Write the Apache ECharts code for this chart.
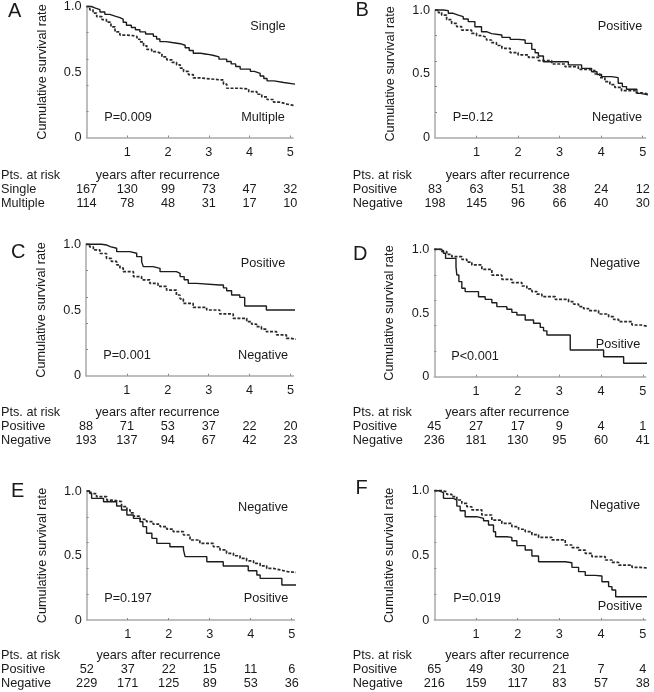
<!DOCTYPE html>
<html><head><meta charset="utf-8">
<script src="https://cdn.jsdelivr.net/npm/echarts@6/dist/echarts.min.js"></script>
<style>html,body{margin:0;padding:0;background:#fff}#c{width:654px;height:692px}</style>
</head><body><div id="c"></div>
<script>
// ---------- DATA ----------
const panelLetters = ['A', 'B', 'C', 'D', 'E', 'F'];
const groupNames = [
  ['Single', 'Multiple'],
  ['Positive', 'Negative'],
  ['Positive', 'Negative'],
  ['Positive', 'Negative'],
  ['Positive', 'Negative'],
  ['Positive', 'Negative']
];
const pValues = ['P=0.009', 'P=0.12', 'P=0.001', 'P<0.001', 'P=0.197', 'P=0.019'];
const xTickValues = [1, 2, 3, 4, 5];
const riskTimes = [0, 1, 2, 3, 4, 5];
const yLabelValues = [0, 0.5, 1];
const yTickValues = [0.2, 0.4, 0.6, 0.8];

const aSingleRisk = [167, 130, 99, 73, 47, 32];
const aMultipleRisk = [114, 78, 48, 31, 17, 10];
const bPositiveRisk = [83, 63, 51, 38, 24, 12];
const bNegativeRisk = [198, 145, 96, 66, 40, 30];
const cPositiveRisk = [88, 71, 53, 37, 22, 20];
const cNegativeRisk = [193, 137, 94, 67, 42, 23];
const dPositiveRisk = [45, 27, 17, 9, 4, 1];
const dNegativeRisk = [236, 181, 130, 95, 60, 41];
const ePositiveRisk = [52, 37, 22, 15, 11, 6];
const eNegativeRisk = [229, 171, 125, 89, 53, 36];
const fPositiveRisk = [65, 49, 30, 21, 7, 4];
const fNegativeRisk = [216, 159, 117, 83, 57, 38];

// survival curves: [years, cumulative survival]
const aSingle = [[0,1],[0.12,0.988],[0.22,0.976],[0.33,0.958],[0.45,0.94],[0.57,0.926],[0.7,0.915],[0.82,0.903],[0.9,0.88],[0.98,0.857],[1.1,0.84],[1.2,0.822],[1.31,0.806],[1.45,0.79],[1.64,0.772],[1.72,0.752],[1.8,0.732],[1.95,0.725],[2.1,0.716],[2.3,0.704],[2.42,0.685],[2.52,0.664],[2.62,0.643],[2.8,0.636],[2.95,0.628],[3.1,0.615],[3.25,0.598],[3.44,0.58],[3.55,0.562],[3.66,0.542],[3.77,0.522],[4.02,0.505],[4.12,0.49],[4.26,0.47],[4.35,0.45],[4.43,0.432],[4.6,0.42],[4.84,0.406],[5.15,0.406]];
const aMultiple = [[0,1],[0.08,0.975],[0.16,0.95],[0.25,0.922],[0.38,0.9],[0.49,0.88],[0.6,0.845],[0.7,0.806],[0.82,0.782],[1.0,0.777],[1.15,0.77],[1.24,0.75],[1.31,0.73],[1.4,0.7],[1.48,0.672],[1.6,0.655],[1.72,0.64],[1.85,0.615],[1.97,0.592],[2.1,0.573],[2.21,0.555],[2.3,0.53],[2.38,0.505],[2.5,0.48],[2.62,0.455],[2.79,0.44],[3.28,0.44],[3.36,0.408],[3.44,0.376],[3.77,0.37],[3.98,0.35],[4.18,0.33],[4.3,0.31],[4.43,0.29],[4.59,0.27],[4.75,0.255],[4.92,0.24],[5.15,0.24]];
const bPositive = [[0,1],[0.2,0.995],[0.32,0.974],[0.44,0.96],[0.56,0.948],[0.68,0.93],[0.8,0.909],[0.96,0.869],[1.12,0.83],[1.24,0.815],[1.36,0.804],[1.61,0.786],[1.81,0.77],[2.0,0.765],[2.17,0.739],[2.33,0.692],[2.41,0.665],[2.49,0.64],[2.61,0.595],[2.97,0.595],[3.21,0.57],[3.53,0.543],[3.77,0.517],[3.9,0.495],[4.01,0.478],[4.25,0.47],[4.41,0.426],[4.51,0.4],[4.61,0.379],[4.86,0.347],[4.95,0.334],[5.15,0.334]];
const bNegative = [[0,1],[0.08,0.98],[0.16,0.96],[0.28,0.925],[0.4,0.895],[0.52,0.87],[0.64,0.843],[0.88,0.817],[1.0,0.8],[1.12,0.786],[1.24,0.765],[1.36,0.744],[1.48,0.722],[1.61,0.7],[1.81,0.666],[2.0,0.648],[2.25,0.629],[2.49,0.603],[2.81,0.577],[3.13,0.556],[3.45,0.535],[3.69,0.525],[3.85,0.499],[3.97,0.47],[4.09,0.439],[4.21,0.415],[4.33,0.394],[4.49,0.368],[4.82,0.352],[4.98,0.342],[5.15,0.342]];
const cPositive = [[0,1],[0.38,0.995],[0.5,0.982],[0.59,0.97],[0.75,0.944],[1.07,0.932],[1.24,0.906],[1.36,0.868],[1.4,0.83],[1.64,0.817],[1.81,0.792],[2.21,0.779],[2.3,0.754],[2.4,0.73],[2.5,0.703],[2.7,0.69],[3.27,0.69],[3.36,0.668],[3.44,0.647],[3.56,0.614],[3.76,0.596],[3.88,0.53],[4.41,0.5],[5.15,0.5]];
const cNegative = [[0,1],[0.09,0.98],[0.18,0.957],[0.34,0.93],[0.5,0.893],[0.62,0.87],[0.75,0.843],[0.83,0.82],[0.91,0.792],[1.16,0.754],[1.36,0.73],[1.56,0.703],[1.76,0.68],[1.97,0.652],[2.21,0.614],[2.3,0.585],[2.38,0.551],[2.62,0.52],[2.95,0.5],[3.27,0.47],[3.6,0.437],[3.93,0.411],[4.05,0.392],[4.17,0.373],[4.29,0.354],[4.41,0.335],[4.66,0.31],[4.9,0.284],[5.0,0.277],[5.15,0.277]];
const dPositive = [[0,1],[0.14,0.99],[0.22,0.969],[0.27,0.929],[0.52,0.864],[0.54,0.798],[0.59,0.746],[0.66,0.694],[0.74,0.668],[1.06,0.628],[1.22,0.607],[1.38,0.581],[1.5,0.55],[1.74,0.529],[1.86,0.505],[1.98,0.484],[2.18,0.445],[2.38,0.419],[2.54,0.387],[2.62,0.36],[2.7,0.327],[3.26,0.209],[4.06,0.157],[4.54,0.105],[5.15,0.105]];
const dNegative = [[0,1],[0.18,0.982],[0.3,0.96],[0.42,0.942],[0.66,0.921],[0.78,0.9],[0.9,0.877],[1.14,0.843],[1.38,0.798],[1.62,0.764],[1.86,0.738],[2.1,0.712],[2.22,0.69],[2.34,0.668],[2.46,0.648],[2.58,0.628],[2.9,0.607],[3.22,0.589],[3.34,0.57],[3.46,0.55],[3.58,0.534],[3.7,0.518],[3.94,0.492],[4.18,0.471],[4.3,0.45],[4.42,0.432],[4.74,0.406],[4.95,0.393],[5.15,0.393]];
const ePositive = [[0,1],[0.07,0.982],[0.12,0.943],[0.41,0.917],[0.73,0.884],[0.85,0.853],[0.98,0.814],[1.14,0.788],[1.3,0.762],[1.37,0.724],[1.46,0.672],[1.59,0.633],[1.71,0.594],[2.03,0.568],[2.36,0.543],[2.4,0.491],[2.93,0.452],[3.33,0.419],[3.94,0.382],[4.15,0.349],[4.23,0.323],[4.76,0.271],[5.15,0.271]];
const eNegative = [[0,1],[0.1,0.98],[0.24,0.956],[0.49,0.93],[0.65,0.917],[0.85,0.879],[0.98,0.853],[1.06,0.83],[1.14,0.806],[1.3,0.78],[1.46,0.762],[1.62,0.743],[1.79,0.724],[1.95,0.705],[2.11,0.685],[2.36,0.659],[2.52,0.62],[2.76,0.594],[3.09,0.568],[3.25,0.543],[3.41,0.517],[3.58,0.498],[3.74,0.478],[3.9,0.459],[4.07,0.439],[4.23,0.42],[4.39,0.4],[4.55,0.388],[4.72,0.375],[4.9,0.367],[5.15,0.367]];
const fPositive = [[0,1],[0.1,0.985],[0.22,0.941],[0.46,0.928],[0.54,0.881],[0.62,0.845],[0.74,0.799],[1.02,0.786],[1.18,0.768],[1.3,0.735],[1.42,0.683],[1.47,0.644],[1.74,0.639],[1.86,0.613],[1.98,0.575],[2.18,0.541],[2.34,0.495],[2.5,0.451],[3.14,0.443],[3.3,0.407],[3.46,0.374],[3.62,0.345],[3.86,0.34],[4.02,0.296],[4.18,0.258],[4.26,0.232],[4.35,0.18],[5.15,0.18]];
const fNegative = [[0,1],[0.18,0.992],[0.3,0.972],[0.42,0.954],[0.54,0.928],[0.66,0.902],[0.78,0.876],[0.9,0.851],[1.14,0.812],[1.38,0.773],[1.62,0.747],[1.86,0.722],[2.02,0.702],[2.18,0.683],[2.34,0.66],[2.5,0.639],[2.82,0.619],[3.14,0.58],[3.3,0.56],[3.46,0.541],[3.62,0.515],[3.78,0.49],[4.1,0.464],[4.26,0.445],[4.42,0.425],[4.74,0.407],[4.95,0.4],[5.15,0.4]];

const curves = [[aSingle, aMultiple], [bPositive, bNegative], [cPositive, cNegative], [dPositive, dNegative], [ePositive, eNegative], [fPositive, fNegative]];
const risks = [[aSingleRisk, aMultipleRisk], [bPositiveRisk, bNegativeRisk], [cPositiveRisk, cNegativeRisk], [dPositiveRisk, dNegativeRisk], [ePositiveRisk, eNegativeRisk], [fPositiveRisk, fNegativeRisk]];

// ---------- LAYOUT ----------
const FONT = '"Liberation Sans", Arial, Helvetica, sans-serif';
const FS = 12.7;
const X_MAX = 5.07;
const layout = [
  { left: 86.5, top: 5,     unit: 40.76, height: 132.5, colX: 1,     letter: [8, 11],    lab1: [268, 26],  lab2: [263, 117], p: [128, 117], rows: [175, 189.3, 203.3] },
  { left: 435,  top: 10,    unit: 41.54, height: 127.7, colX: 352.7, letter: [355.5, 10.5], lab1: [620, 26],  lab2: [617, 117], p: [473, 117], rows: [175, 189.3, 203.3] },
  { left: 86,   top: 244.3, unit: 40.9,  height: 131.4, colX: 1,     letter: [11, 252],  lab1: [263, 263], lab2: [263, 355], p: [127, 355], rows: [412.3, 426.7, 440.7] },
  { left: 434.3,top: 249.3, unit: 41.7,  height: 127.4, colX: 352.7, letter: [353, 254], lab1: [615, 263], lab2: [618, 344], p: [475, 356], rows: [412.3, 426.7, 440.5] },
  { left: 86.7, top: 491,   unit: 41.0,  height: 129,   colX: 1,     letter: [11, 491],  lab1: [263, 507], lab2: [266, 598], p: [128, 598], rows: [655, 669.3, 683.3] },
  { left: 434.3,top: 490.7, unit: 41.7,  height: 129.3, colX: 352.7, letter: [355.5, 488], lab1: [615, 505], lab2: [620, 606], p: [477, 598], rows: [655, 669.7, 683.3] }
];
// In panels D, E, F the "Negative" label is on top, "Positive" at bottom
const topLabelIdx = [0, 0, 0, 1, 1, 1];

const chart = echarts.init(document.getElementById('c'), null, { renderer: 'canvas' });

const grid = [], xAxis = [], yAxis = [], series = [];
layout.forEach((g, i) => {
  grid.push({ left: g.left, top: g.top, width: g.unit * X_MAX, height: g.height });
  xAxis.push({
    type: 'value', gridIndex: i, min: 0, max: X_MAX,
    axisLine: { show: true, lineStyle: { color: '#a9a9a9', width: 1.5 } },
    axisTick: { show: true, inside: true, length: 2, customValues: xTickValues, lineStyle: { color: '#888' } },
    axisLabel: { customValues: xTickValues, margin: 8, fontSize: FS, color: '#1a1a1a', fontFamily: FONT },
    splitLine: { show: false }
  });
  yAxis.push({
    type: 'value', gridIndex: i, min: 0, max: 1,
    axisLine: { show: true, lineStyle: { color: '#a9a9a9', width: 1.5 } },
    axisTick: { show: true, inside: true, length: 2, customValues: yTickValues, lineStyle: { color: '#888' } },
    axisLabel: { customValues: yLabelValues, margin: 5, fontSize: FS, color: '#1a1a1a', fontFamily: FONT,
      formatter: v => (v === 0 ? '0' : v.toFixed(1)) },
    splitLine: { show: false },
    name: 'Cumulative survival rate', nameLocation: 'middle', nameGap: 38, nameRotate: 90,
    nameTextStyle: { fontSize: FS, color: '#1a1a1a', fontFamily: FONT }
  });
  curves[i].forEach((data, k) => {
    series.push({
      type: 'line', name: groupNames[i][k], xAxisIndex: i, yAxisIndex: i, data: data,
      step: 'end', symbol: 'none', silent: true, animation: false, clip: false,
      lineStyle: k === 0 ? { color: '#1c1c1c', width: 1.4 } : { color: '#2a2a2a', width: 1.7, type: [3, 1.6] }
    });
  });
});

chart.setOption({ animation: false, backgroundColor: '#fff', grid, xAxis, yAxis, series });

function txt(x, y, text, opt) {
  opt = opt || {};
  return { type: 'text', x: x, y: y, silent: true,
    style: { text: text, font: (opt.size || FS) + 'px ' + FONT, fill: '#1a1a1a',
      align: opt.align || 'center', verticalAlign: 'middle' } };
}

const graphic = [];
layout.forEach((g, i) => {
  graphic.push(txt(g.letter[0], g.letter[1], panelLetters[i], { size: 20, align: 'left' }));
  const names = groupNames[i];
  const topName = names[topLabelIdx[i]], botName = names[1 - topLabelIdx[i]];
  graphic.push(txt(g.lab1[0], g.lab1[1], topName));
  graphic.push(txt(g.lab2[0], g.lab2[1], botName));
  graphic.push(txt(g.p[0], g.p[1], pValues[i]));
  // at-risk table
  graphic.push(txt(g.colX, g.rows[0], 'Pts. at risk', { align: 'left' }));
  const hx = chart.convertToPixel({ xAxisIndex: i }, 1.75);
  graphic.push(txt(hx, g.rows[0], 'years after recurrence'));
  names.forEach((nm, k) => {
    graphic.push(txt(g.colX, g.rows[k + 1], nm, { align: 'left' }));
    riskTimes.forEach((t, j) => {
      const px = chart.convertToPixel({ xAxisIndex: i }, t);
      graphic.push(txt(px, g.rows[k + 1], String(risks[i][k][j])));
    });
  });
});
chart.setOption({ graphic: graphic });
</script>
</body></html>
